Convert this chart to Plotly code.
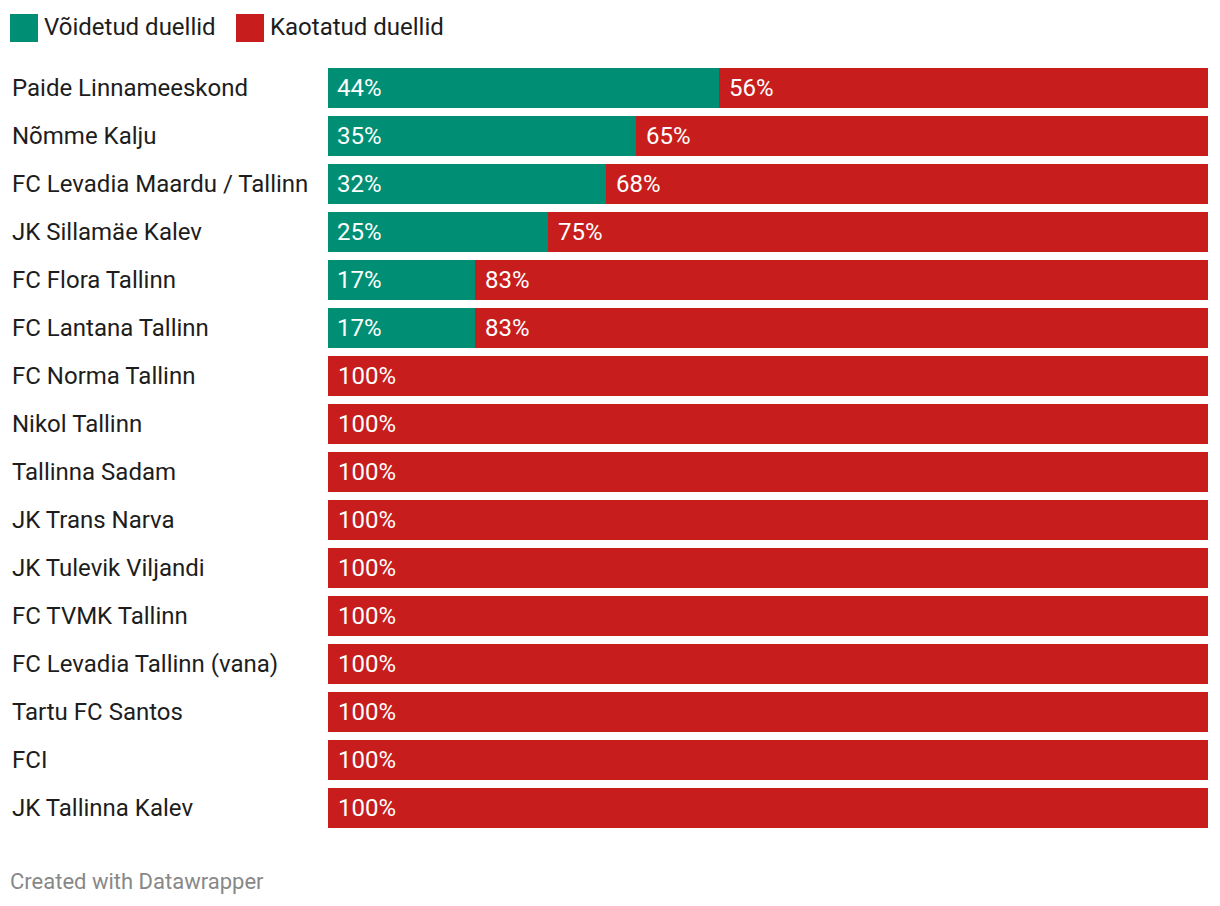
import plotly.graph_objects as go

teams = ["Paide Linnameeskond", "Nõmme Kalju", "FC Levadia Maardu / Tallinn", "JK Sillamäe Kalev",
         "FC Flora Tallinn", "FC Lantana Tallinn", "FC Norma Tallinn", "Nikol Tallinn", "Tallinna Sadam",
         "JK Trans Narva", "JK Tulevik Viljandi", "FC TVMK Tallinn", "FC Levadia Tallinn (vana)",
         "Tartu FC Santos", "FCI", "JK Tallinna Kalev"]
won = [44.4, 35.0, 31.6, 25.0, 16.7, 16.7, 0, 0, 0, 0, 0, 0, 0, 0, 0, 0]
lost = [55.6, 65.0, 68.4, 75.0, 83.3, 83.3, 100, 100, 100, 100, 100, 100, 100, 100, 100, 100]
series_names = ["Võidetud duellid", "Kaotatud duellid"]
colors = ["#008f74", "#c71e1d"]

W, H = 1220, 906
OFF = 8  # page body margin
# plot area in screen pixels: x 328..1208, y 64..832
L = 328 - OFF
T = 64 - OFF
R = W - (1208 - OFF)
B = H - (832 - OFF)
pw, ph = W - L - R, H - T - B

def px_x(p):
    return (p - OFF - L) / pw

def px_y(q):
    return (H - B - (q - OFF)) / ph

FONT = "Roboto"
TXT = "#1d1d1d"

fig = go.Figure()
fig.add_trace(go.Bar(y=teams, x=won, orientation="h", marker=dict(color=colors[0], line_width=0),
                     width=40/48, name=series_names[0], hoverinfo="skip"))
fig.add_trace(go.Bar(y=teams, x=lost, orientation="h", marker=dict(color=colors[1], line_width=0),
                     width=40/48, name=series_names[1], hoverinfo="skip"))

ann = []
for t, w, l in zip(teams, won, lost):
    ann.append(dict(x=px_x(10), xref="paper", y=t, yref="y", text=t, showarrow=False,
                    xanchor="left", yanchor="middle", font=dict(family=FONT, size=24, color=TXT)))
    if w > 0:
        ann.append(dict(x=0, xref="x", y=t, yref="y", text=f"{round(w)}%", showarrow=False,
                        xanchor="left", yanchor="middle", xshift=7,
                        font=dict(family=FONT, size=24, color="white")))
    ann.append(dict(x=w, xref="x", y=t, yref="y", text=f"{round(l)}%", showarrow=False,
                    xanchor="left", yanchor="middle", xshift=8,
                    font=dict(family=FONT, size=24, color="white")))

# legend
shapes = []
leg_x = [10, 236]
for i, name in enumerate(series_names):
    x0 = leg_x[i]
    shapes.append(dict(type="rect", xref="paper", yref="paper", x0=px_x(x0), x1=px_x(x0 + 28),
                       y0=px_y(42), y1=px_y(14), fillcolor=colors[i], line_width=0))
    ann.append(dict(x=px_x(x0 + 32), xref="paper", y=px_y(27), yref="paper", text=name, showarrow=False,
                    xanchor="left", yanchor="middle", font=dict(family=FONT, size=24, color=TXT)))

ann.append(dict(x=px_x(8), xref="paper", y=px_y(881), yref="paper", text="Created with Datawrapper",
                showarrow=False, xanchor="left", yanchor="middle",
                font=dict(family=FONT, size=22, color="#888888")))

fig.update_layout(
    barmode="stack", width=W, height=H, margin=dict(l=L, r=R, t=T, b=B, pad=0),
    plot_bgcolor="white", paper_bgcolor="white", showlegend=False, bargap=0,
    xaxis=dict(range=[0, 100], visible=False, fixedrange=True),
    yaxis=dict(visible=False, categoryorder="array", categoryarray=teams,
               range=[15.5, -0.5]),
    annotations=ann, shapes=shapes,
)

fig.write_html("out.html")
